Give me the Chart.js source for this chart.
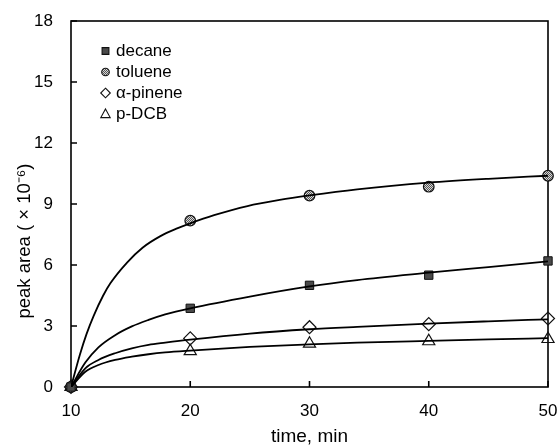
<!DOCTYPE html>
<html>
<head>
<meta charset="utf-8">
<script src="https://cdn.jsdelivr.net/npm/chart.js@4.4.0/dist/chart.umd.min.js"></script>
<style>
  html, body { margin: 0; padding: 0; background: #fff; }
  #wrap { width: 559px; height: 445px; }
</style>
</head>
<body>
<div id="wrap"><canvas id="c" width="559" height="445"></canvas></div>
<script>
// ---- data ----
const times = [10, 20, 30, 40, 50];
const decane  = [0, 3.87, 5.00, 5.50, 6.20];
const toluene = [0, 8.18, 9.41, 9.85, 10.39];
const pinene  = [0, 2.39, 2.94, 3.09, 3.37];
const pdcb    = [0, 1.76, 2.13, 2.25, 2.36];

// fitted curves
const fitTimesA  = [10, 10.75, 11.3, 11.9, 12.7, 13.3, 14.7, 16, 17.5, 18.9, 20, 22, 24.8, 27.5, 30, 34, 40, 45, 50];
const tolueneFit = [0, 1.60, 2.60, 3.50, 4.50, 5.10, 6.12, 6.85, 7.42, 7.80, 8.05, 8.45, 8.90, 9.20, 9.42, 9.72, 10.05, 10.24, 10.39];
const fitTimesB  = [10, 11.2, 12.3, 13.7, 15.1, 16.5, 17.9, 20, 25, 30, 34, 40, 45, 50];
const decaneFit  = [0, 1.20, 1.95, 2.55, 2.98, 3.30, 3.57, 3.87, 4.45, 4.95, 5.26, 5.62, 5.90, 6.18];
const pineneFit  = [0, 0.92, 1.33, 1.66, 1.90, 2.07, 2.18, 2.33, 2.63, 2.84, 2.96, 3.12, 3.23, 3.33];
const pdcbFit    = [0, 0.75, 1.08, 1.33, 1.49, 1.61, 1.70, 1.79, 1.97, 2.10, 2.18, 2.27, 2.34, 2.40];

const seriesNames = ['decane', 'toluene', 'α-pinene', 'p-DCB'];
const yTicks = [0, 3, 6, 9, 12, 15, 18];
const xTicks = [10, 20, 30, 40, 50];
const xTitle = 'time, min';
const yTitle = 'peak area ( × 10⁻⁶)';

const FONT = '"Liberation Sans", Arial, sans-serif';

// crosshatch-like fill for toluene
const pc = document.createElement('canvas');
pc.width = 2; pc.height = 2;
const pg = pc.getContext('2d');
pg.fillStyle = '#d8d8d8'; pg.fillRect(0, 0, 2, 2);
pg.fillStyle = '#555'; pg.fillRect(0, 0, 1, 1); pg.fillRect(1, 1, 1, 1);
const ctxMain = document.getElementById('c').getContext('2d');
const tolPattern = ctxMain.createPattern(pc, 'repeat');

const pts = (xs, ys) => xs.map((t, i) => ({ x: t, y: ys[i] }));

const curve = (xs, ys) => ({
  data: pts(xs, ys), showLine: true, borderColor: '#000', borderWidth: 1.8,
  pointRadius: 0, cubicInterpolationMode: 'monotone', fill: false
});

const markerStyles = [
  { pointStyle: 'rect', pointRadius: 5.9, backgroundColor: '#4a4a4a', borderColor: '#111', borderWidth: 1 },
  { pointStyle: 'circle', pointRadius: 5.3, backgroundColor: tolPattern, borderColor: '#111', borderWidth: 1.2 },
  { pointStyle: 'rectRot', pointRadius: 6.5, backgroundColor: 'rgba(0,0,0,0)', borderColor: '#111', borderWidth: 1.2 },
  { pointStyle: 'triangle', pointRadius: 7, backgroundColor: 'rgba(0,0,0,0)', borderColor: '#111', borderWidth: 1.2 }
];
const markerData = [decane, toluene, pinene, pdcb];

const datasets = [
  curve(fitTimesA, tolueneFit),
  curve(fitTimesB, decaneFit),
  curve(fitTimesB, pineneFit),
  curve(fitTimesB, pdcbFit)
];
markerData.forEach((d, i) => {
  datasets.push(Object.assign({ label: seriesNames[i], data: pts(times, d), showLine: false, clip: false }, markerStyles[i]));
});

function drawSymbol(ctx, kind, x, y) {
  ctx.save();
  ctx.strokeStyle = '#111';
  ctx.lineWidth = 1.1;
  ctx.beginPath();
  if (kind === 0) {
    ctx.rect(x - 3.4, y - 3.4, 6.8, 6.8);
    ctx.fillStyle = '#4a4a4a'; ctx.fill(); ctx.stroke();
  } else if (kind === 1) {
    ctx.arc(x, y, 3.8, 0, Math.PI * 2);
    ctx.fillStyle = tolPattern; ctx.fill(); ctx.stroke();
  } else if (kind === 2) {
    ctx.moveTo(x, y - 4.8); ctx.lineTo(x + 4.8, y); ctx.lineTo(x, y + 4.8); ctx.lineTo(x - 4.8, y); ctx.closePath();
    ctx.stroke();
  } else {
    ctx.moveTo(x, y - 5); ctx.lineTo(x + 4.7, y + 3.6); ctx.lineTo(x - 4.7, y + 3.6); ctx.closePath();
    ctx.stroke();
  }
  ctx.restore();
}

const framePlugin = {
  id: 'frame',
  beforeDatasetsDraw(chart) {
    const { ctx, chartArea: a, scales: { x, y } } = chart;
    ctx.save();
    ctx.strokeStyle = '#000';
    ctx.lineWidth = 1.6;
    ctx.strokeRect(a.left, a.top, a.right - a.left, a.bottom - a.top);
    ctx.beginPath();
    y.ticks.forEach(t => { const py = y.getPixelForValue(t.value); ctx.moveTo(a.left, py); ctx.lineTo(a.left + 6, py); });
    x.ticks.forEach(t => { const px = x.getPixelForValue(t.value); ctx.moveTo(px, a.bottom); ctx.lineTo(px, a.bottom - 6); });
    ctx.stroke();
    ctx.translate(25, 241);
    ctx.rotate(-Math.PI / 2);
    ctx.font = '18.5px ' + FONT;
    ctx.fillStyle = '#000';
    ctx.textAlign = 'center';
    ctx.textBaseline = 'middle';
    ctx.fillText(yTitle, 0, 0);
    ctx.restore();
  },
  afterDraw(chart) {
    const { ctx } = chart;
    ctx.save();
    ctx.font = '17px ' + FONT;
    ctx.fillStyle = '#000';
    ctx.textAlign = 'left';
    ctx.textBaseline = 'middle';
    seriesNames.forEach((n, i) => {
      const ly = 51 + i * 21;
      drawSymbol(ctx, i, 105.5, ly);
      ctx.fillText(n, 116, ly + 0.5);
    });
    ctx.restore();
  }
};

new Chart(document.getElementById('c'), {
  type: 'scatter',
  data: { datasets },
  plugins: [framePlugin],
  options: {
    responsive: false,
    animation: false,
    layout: { padding: { top: 21, right: 11, left: 0, bottom: 0 } },
    plugins: { legend: { display: false }, tooltip: { enabled: false } },
    scales: {
      x: {
        type: 'linear', min: 10, max: 50,
        afterBuildTicks(s) { s.ticks = xTicks.map(v => ({ value: v })); },
        ticks: { padding: 0, color: '#000', font: { family: FONT, size: 17 } },
        grid: { display: true, drawOnChartArea: false, drawTicks: true, tickLength: 14, tickColor: 'rgba(0,0,0,0)' },
        border: { display: false },
        title: { display: true, text: xTitle, color: '#000', font: { family: FONT, size: 19, lineHeight: 0.9 }, padding: { top: 0, bottom: 0 } },
        afterFit(s) { s.height = 58; }
      },
      y: {
        type: 'linear', min: 0, max: 18,
        afterBuildTicks(s) { s.ticks = yTicks.map(v => ({ value: v })); },
        ticks: { padding: 0, color: '#000', font: { family: FONT, size: 17 } },
        grid: { display: true, drawOnChartArea: false, drawTicks: true, tickLength: 18, tickColor: 'rgba(0,0,0,0)' },
        border: { display: false },
        afterFit(s) { s.width = 71; }
      }
    }
  }
});
</script>
</body>
</html>
